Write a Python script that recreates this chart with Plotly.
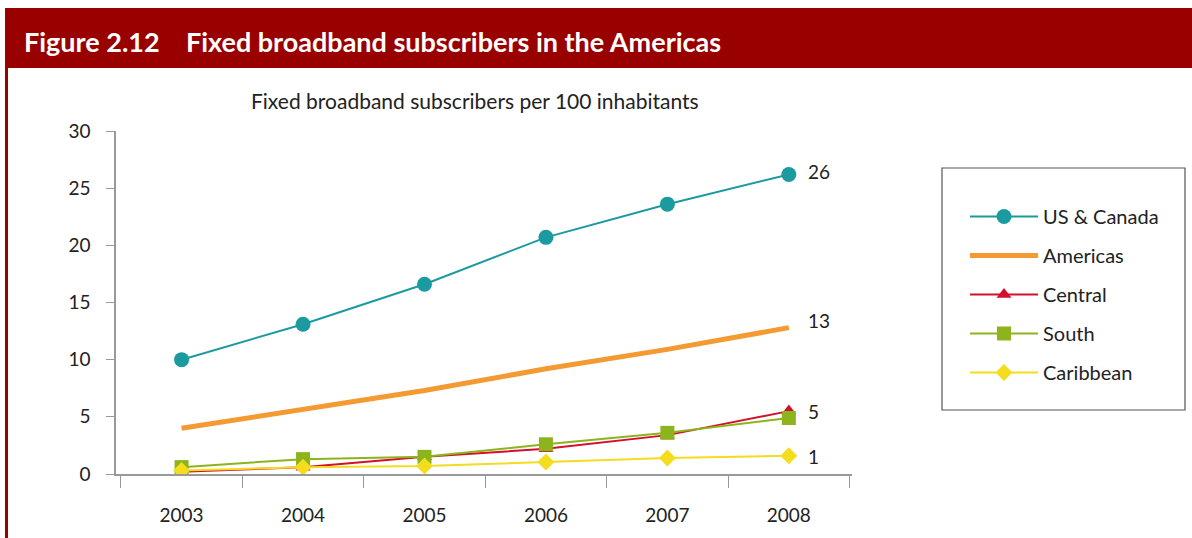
import plotly.graph_objects as go

years = ["2003", "2004", "2005", "2006", "2007", "2008"]
us_canada = [10.0, 13.1, 16.6, 20.7, 23.6, 26.2]
americas = [4.0, 5.6, 7.3, 9.2, 10.9, 12.8]
central = [0.2, 0.6, 1.5, 2.2, 3.4, 5.5]
south = [0.6, 1.3, 1.5, 2.6, 3.6, 4.9]
caribbean = [0.3, 0.6, 0.7, 1.05, 1.4, 1.6]
end_labels = ["26", "13", "5", "1"]

W, H = 1192, 538
L, R, T, B = 116, 852, 131, 474
FONT = "Lato"


def px2x(px):
    return (px - L) / (R - L)


def py2y(py):
    return (B - py) / (B - T)


fig = go.Figure()

series = [
    ("US & Canada", us_canada, "#1b9aa0", 2, "circle", 15),
    ("Americas", americas, "#f39a32", 5, None, 0),
    ("Central", central, "#d3102b", 2, "triangle-up", 13),
    ("South", south, "#8db41c", 2, "square", 14),
    ("Caribbean", caribbean, "#f4dc1e", 2, "diamond", 13),
]
for i, (name, vals, col, lw, sym, ms) in enumerate(series):
    kw = dict(mode="lines")
    if sym:
        kw = dict(mode="lines+markers",
                  marker=dict(symbol=sym, size=ms, color=col, line=dict(width=0)))
    fig.add_trace(go.Scatter(x=years, y=vals, name=name, legendgroup=f"g{i}",
                             line=dict(color=col, width=lw), **kw))

# end labels (placed next to the last point of their series)
label_specs = [(us_canada[-1], 3), (americas[-1], 7), (central[-1], 0), (caribbean[-1], -1)]
for txt, (yv, ys) in zip(end_labels, label_specs):
    fig.add_annotation(x=px2x(806), y=yv, xref="paper", yref="y", text=txt, showarrow=False,
                       xanchor="left", yanchor="middle", yshift=ys,
                       font=dict(family=FONT, size=19, color="#222"))

shapes = [
    dict(type="rect", xref="paper", yref="paper", x0=px2x(5), x1=px2x(1195),
         y0=py2y(68), y1=py2y(8), fillcolor="#990000", line=dict(width=0), layer="below"),
    dict(type="rect", xref="paper", yref="paper", x0=px2x(5), x1=px2x(8),
         y0=py2y(540), y1=py2y(68), fillcolor="#990000", line=dict(width=0), layer="below"),
    dict(type="rect", xref="paper", yref="paper", x0=px2x(942), x1=px2x(1185),
         y0=py2y(410), y1=py2y(168), fillcolor="rgba(0,0,0,0)",
         line=dict(color="#555", width=1.2)),
]

fig.add_annotation(xref="paper", yref="paper", x=px2x(22), y=py2y(41),
                   text="<b>Figure 2.12    Fixed broadband subscribers in the Americas</b>",
                   showarrow=False, xanchor="left", yanchor="middle",
                   font=dict(family=FONT, size=27, color="white"))
fig.add_annotation(xref="paper", yref="paper", x=px2x(475), y=py2y(101),
                   text="Fixed broadband subscribers per 100 inhabitants",
                   showarrow=False, xanchor="center", yanchor="middle",
                   font=dict(family=FONT, size=21, color="#222"))

fig.update_layout(
    width=W, height=H,
    margin=dict(l=L, r=W - R, t=T, b=H - B, autoexpand=False),
    paper_bgcolor="white", plot_bgcolor="white",
    shapes=shapes,
    showlegend=True,
    legend=dict(x=px2x(965), y=py2y(197), xanchor="left", yanchor="top",
                font=dict(family=FONT, size=20, color="#222"),
                bgcolor="rgba(0,0,0,0)", borderwidth=0,
                tracegroupgap=10, itemwidth=68),
    xaxis=dict(type="category", tickson="boundaries", ticks="outside", ticklen=12,
               tickcolor="#999", showline=True, linecolor="#999", linewidth=1.5,
               showgrid=False, range=[-0.54, 5.52], ticklabelstandoff=23,
               tickfont=dict(family=FONT, size=19, color="#222")),
    yaxis=dict(range=[0, 30], dtick=5, ticks="outside", ticklen=8, tickcolor="#999",
               showline=True, linecolor="#999", linewidth=1.5, showgrid=False,
               zeroline=False, ticklabelstandoff=12,
               tickfont=dict(family=FONT, size=19, color="#222")),
)

fig.write_html("out.html", config={"displayModeBar": False},
               post_script="document.body.style.margin='0';document.body.style.overflow='hidden';")
